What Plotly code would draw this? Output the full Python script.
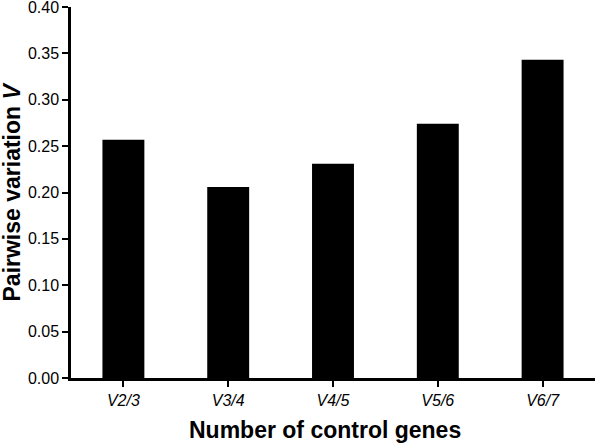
import plotly.graph_objects as go

categories = ["V2/3", "V3/4", "V4/5", "V5/6", "V6/7"]
tick_labels = ["<i>V2/3</i>", "<i>V3/4</i>", "<i>V4/5</i>", "<i>V5/6</i>", "<i>V6/7</i>"]
values = [0.257, 0.206, 0.231, 0.274, 0.343]
y_ticks = [0.00, 0.05, 0.10, 0.15, 0.20, 0.25, 0.30, 0.35, 0.40]

FONT = "Liberation Sans, Arial, sans-serif"

fig = go.Figure(
    go.Bar(
        x=categories,
        y=values,
        width=0.4,
        marker=dict(color="black", line=dict(width=0)),
    )
)

fig.update_layout(
    width=600,
    height=445,
    margin=dict(l=71, r=5, t=7, b=67),
    plot_bgcolor="white",
    paper_bgcolor="white",
    showlegend=False,
    font=dict(family=FONT, color="black"),
)

fig.update_xaxes(
    range=[-0.5, 4.5],
    automargin=False,
    tickmode="array",
    tickvals=categories,
    ticktext=tick_labels,
    ticks="outside",
    ticklen=6,
    tickwidth=2,
    tickcolor="black",
    showline=True,
    linecolor="black",
    linewidth=2.5,
    showgrid=False,
    zeroline=False,
    ticklabeloverflow="allow",
    tickfont=dict(size=16, family=FONT, color="black"),
)

fig.update_yaxes(
    range=[0, 0.4],
    automargin=False,
    tickmode="array",
    tickvals=y_ticks,
    ticktext=[f"{v:.2f}" for v in y_ticks],
    ticks="outside",
    ticklen=6,
    tickwidth=2,
    tickcolor="black",
    showline=True,
    linecolor="black",
    linewidth=2.5,
    showgrid=False,
    zeroline=False,
    ticklabeloverflow="allow",
    tickfont=dict(size=16, family=FONT, color="black"),
)

fig.add_annotation(
    text="<b>Number of control genes</b>",
    xref="paper", yref="paper",
    x=0.485, y=0,
    xanchor="center", yanchor="middle",
    yshift=-52,
    showarrow=False,
    font=dict(size=23, family=FONT, color="black"),
)

fig.add_annotation(
    text="<b>Pairwise variation <i>V</i></b>",
    xref="paper", yref="paper",
    x=0, y=0.5,
    xanchor="center", yanchor="middle",
    xshift=-60,
    textangle=-90,
    showarrow=False,
    font=dict(size=23, family=FONT, color="black"),
)

fig.write_html(
    "out.html",
    config={"displayModeBar": False},
    post_script="document.body.style.margin='0';",
)
